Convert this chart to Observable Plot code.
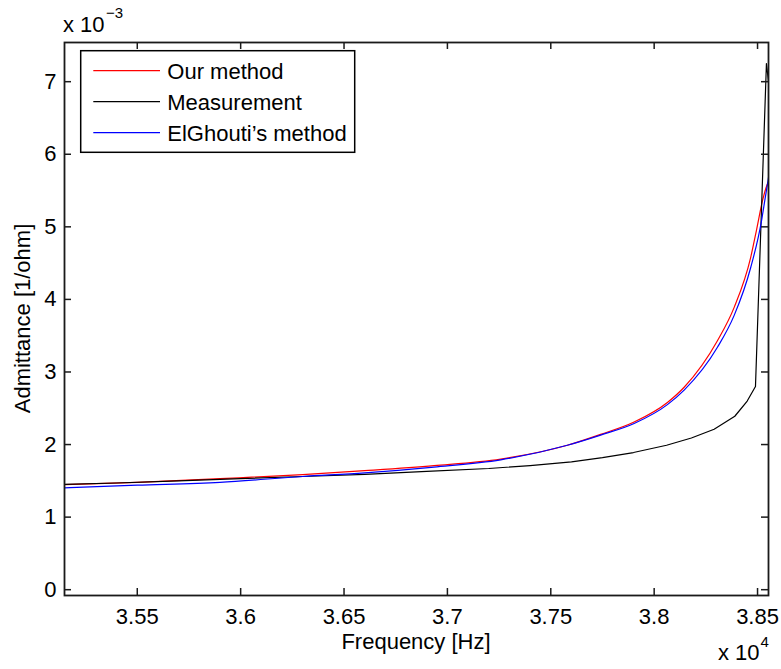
<!DOCTYPE html>
<html>
<head>
<meta charset="utf-8">
<script src="https://cdn.jsdelivr.net/npm/d3@7"></script>
<script src="https://cdn.jsdelivr.net/npm/@observablehq/plot@0.6"></script>
<style>
  body { margin: 0; background: #fff; }
  #chart { width: 781px; height: 669px; }
</style>
</head>
<body>
<div id="chart"></div>
<script>
// ---- Data (frequency in Hz, admittance in units of 1e-3 1/ohm) ----
const seriesNames = ["Our method", "Measurement", "ElGhouti\u2019s method"];
const seriesColors = ["#ff0000", "#000000", "#0000ff"];

const freqOur = [35148, 35500, 35900, 36300, 36600, 36935, 37258, 37580, 37741, 37903, 38064, 38145, 38306, 38387, 38467, 38496, 38524, 38545, 38553];
const admOur  = [1.449, 1.48, 1.53, 1.585, 1.64, 1.71, 1.80, 1.99, 2.14, 2.31, 2.58, 2.79, 3.43, 3.89, 4.58, 4.97, 5.36, 5.57, 5.62];

const freqMeas = [35148, 35400, 35700, 36000, 36300, 36600, 36900, 37200, 37400, 37600, 37750, 37900, 38060, 38180, 38290, 38390, 38450, 38490, 38543, 38553];
const admMeas  = [1.45, 1.47, 1.50, 1.53, 1.56, 1.59, 1.63, 1.67, 1.71, 1.76, 1.82, 1.89, 1.99, 2.09, 2.21, 2.39, 2.60, 2.80, 7.25, 7.00];

const freqElG = [35148, 35500, 35900, 36300, 36600, 36935, 37258, 37580, 37741, 37903, 38064, 38145, 38306, 38387, 38467, 38519, 38535, 38553];
const admElG  = [1.404, 1.44, 1.48, 1.56, 1.61, 1.69, 1.79, 1.99, 2.13, 2.29, 2.55, 2.75, 3.34, 3.78, 4.44, 5.08, 5.36, 5.68];

const xTicks = [35500, 36000, 36500, 37000, 37500, 38000, 38500];
const xTickLabels = ["3.55", "3.6", "3.65", "3.7", "3.75", "3.8", "3.85"];
const yTicks = [0, 1, 2, 3, 4, 5, 6, 7];
const yTickLabels = ["0", "1", "2", "3", "4", "5", "6", "7"];

const xLabel = "Frequency [Hz]";
const yLabel = "Admittance [1/ohm]";
const xExponent = "4";
const yExponent = "\u22123";

// ---- Layout ----
const W = 781, H = 669;
const mL = 64, mR = 13, mT = 42, mB = 74;
const plotW = W - mL - mR, plotH = H - mT - mB;
const tick = 7;
const font = "'Liberation Sans', Arial, Helvetica, sans-serif";

const toRows = (fs, vs, name) => fs.map((f, i) => ({f, v: vs[i], name}));
const rowsOur = toRows(freqOur, admOur, seriesNames[0]);
const rowsMeas = toRows(freqMeas, admMeas, seriesNames[1]);
const rowsElG = toRows(freqElG, admElG, seriesNames[2]);

const axisColor = "#1a1a1a";

const svg = Plot.plot({
  width: W, height: H,
  marginLeft: mL, marginRight: mR, marginTop: mT, marginBottom: mB,
  style: {fontFamily: font, fontSize: "22px", color: "#000", background: "#fff", overflow: "visible"},
  x: {domain: [35148, 38553]},
  y: {domain: [-0.08, 7.54]},
  marks: [
    Plot.axisX(xTicks, {tickSize: 0, tickPadding: 13, label: null, fontSize: 22,
      tickFormat: d => xTickLabels[xTicks.indexOf(d)]}),
    Plot.axisY(yTicks, {tickSize: 0, tickPadding: 8, label: null, fontSize: 22,
      tickFormat: d => yTickLabels[yTicks.indexOf(d)]}),
    Plot.line(rowsOur, {x: "f", y: "v", stroke: seriesColors[0], strokeWidth: 1.2, curve: "monotone-x", clip: true}),
    Plot.line(rowsMeas, {x: "f", y: "v", stroke: seriesColors[1], strokeWidth: 1.2, clip: true}),
    Plot.line(rowsElG, {x: "f", y: "v", stroke: seriesColors[2], strokeWidth: 1.2, curve: "monotone-x", clip: true}),
    // inward ticks on all four sides
    Plot.ruleX(xTicks, {x: d => d, insetTop: plotH - tick, stroke: axisColor, strokeWidth: 1.5}),
    Plot.ruleX(xTicks, {x: d => d, insetBottom: plotH - tick, stroke: axisColor, strokeWidth: 1.5}),
    Plot.ruleY(yTicks, {y: d => d, insetRight: plotW - tick, stroke: axisColor, strokeWidth: 1.5}),
    Plot.ruleY(yTicks, {y: d => d, insetLeft: plotW - tick, stroke: axisColor, strokeWidth: 1.5}),
    Plot.frame({stroke: axisColor, strokeWidth: 1.8})
  ]
});

const s = d3.select(svg);
const txt = (x, y, str, size, opts = {}) => {
  const t = s.append("text")
    .attr("x", x).attr("y", y)
    .attr("font-family", font)
    .attr("font-size", size)
    .attr("fill", "#000")
    .attr("text-anchor", opts.anchor || "start")
    .text(str);
  if (opts.rotate) t.attr("transform", `rotate(${opts.rotate},${x},${y})`);
  return t;
};

// axis titles
txt(mL + plotW / 2, 649, xLabel, 22, {anchor: "middle"});
txt(30, mT + plotH / 2, yLabel, 22, {anchor: "middle", rotate: -90});

// exponent multipliers
txt(63, 31.5, "x 10", 22);
txt(106, 18, yExponent, 15);
txt(718, 660, "x 10", 22);
txt(760.5, 647, xExponent, 15);

// legend
const lg = s.append("g");
lg.append("rect")
  .attr("x", 80.7).attr("y", 50.7).attr("width", 274).attr("height", 101.6)
  .attr("fill", "#fff").attr("stroke", "#000").attr("stroke-width", 1.5);
const rowY = [70.7, 101.7, 132.7];
seriesNames.forEach((name, i) => {
  lg.append("line")
    .attr("x1", 93.3).attr("x2", 160).attr("y1", rowY[i]).attr("y2", rowY[i])
    .attr("stroke", seriesColors[i]).attr("stroke-width", 1.2);
  lg.append("text")
    .attr("x", 167.3).attr("y", rowY[i] + 7.8)
    .attr("font-family", font).attr("font-size", 22).attr("fill", "#000")
    .attr("text-anchor", "start")
    .text(name);
});

document.getElementById("chart").appendChild(svg);
</script>
</body>
</html>
